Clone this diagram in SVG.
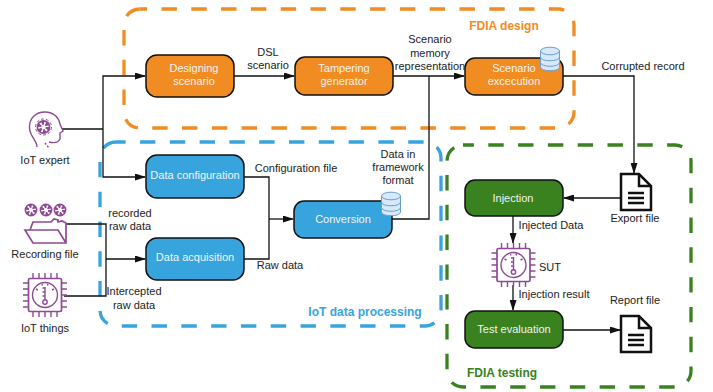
<svg xmlns="http://www.w3.org/2000/svg" width="713" height="392" viewBox="0 0 713 392">
<style>
text{font-family:"Liberation Sans",Arial,sans-serif;font-size:11px;fill:#222;text-anchor:middle}
.n{stroke:#111;stroke-width:1.5}
.o{fill:#f08c21}.b{fill:#38a4dd}.g{fill:#3a8120}
.n ~ text{fill:#f3f3f3}
.c{fill:none;stroke:#111;stroke-width:1.3}
.d{fill:none;stroke-width:3.3;stroke-dasharray:15.4 14.4}
.t{font-size:12px;font-weight:bold}
.p{fill:none;stroke:#8e4a94;stroke-width:1.4}
.db{fill:#d6e8fa;stroke:#6c9ec9;stroke-width:1}
.f{fill:#fff;stroke:#111;stroke-width:2.500}
.l{stroke:#111;stroke-width:2.500}
</style>
<defs>
<marker id="a" markerWidth="11" markerHeight="7" refX="10" refY="3.500" orient="auto" markerUnits="userSpaceOnUse"><path d="M0 0L11 3.500L0 7Z" fill="#111"/></marker>
<g id="chip">
<rect x="-16.500" y="-16.500" width="33" height="33" rx="1.500" class="p" style="stroke-width:1.700"/>
<circle r="12.500" class="p"/>
<path class="p" d="M-12-22v5.500M-6-22v5.500M0-22v5.500M6-22v5.500M12-22v5.500M-12 16.500v5.500M-6 16.500v5.500M0 16.500v5.500M6 16.500v5.500M12 16.500v5.500M-22-12h5.500M-22-6h5.500M-22 0h5.500M-22 6h5.500M-22 12h5.500M16.500-12h5.500M16.500-6h5.500M16.500 0h5.500M16.500 6h5.500M16.500 12h5.500M0-8V5M0-7h-2.500M0-3h-2.500M0 1h-2.500M-9-6l2 1M9-6l-2 1M-3-11l.5 1.500M3-11l-.5 1.500"/>
<circle cy="7" r="2.200" class="p"/>
</g>
<g id="doc">
<path class="f" d="M-15-18H3L15-6V18H-15Z"/><path class="f" style="fill:none" d="M3-18V-6H15"/>
<path class="l" d="M-8 1H8M-8 6H8M-8 11H8"/>
</g>
<g id="cyl">
<path class="db" d="M-9.500-8V8C-9.500 13 9.500 13 9.500 8V-8Z"/><ellipse cy="-8" rx="9.500" ry="3.800" class="db"/>
<path class="db" style="fill:none" d="M-9.500-2C-9.500 3 9.500 3 9.500-2M-9.500 3.500C-9.500 8.500 9.500 8.500 9.500 3.500"/>
</g>
<g id="gear"><circle r="3.200" class="p" style="stroke-width:3;stroke-dasharray:2 1.300"/><circle r="4.700" class="p" style="stroke-width:1.300"/></g>
</defs>

<g id="group-design"><rect x="124" y="9" width="450" height="119" rx="16" class="d" stroke="#f08c21" stroke-dashoffset="8.300"/><text class="t" x="504" y="30" style="fill:#f08c21">FDIA design</text></g>
<g id="group-processing"><rect x="100" y="142" width="341" height="184" rx="16" class="d" stroke="#38a4dd" stroke-dashoffset="5.800"/><text class="t" x="365" y="316" style="fill:#38a4dd">IoT data processing</text></g>
<g id="group-testing"><rect x="447" y="145" width="244" height="242" rx="16" class="d" stroke="#3a8120" stroke-dashoffset="4.500"/><text class="t" x="502" y="377" style="fill:#3a8120">FDIA testing</text></g>

<g id="connectors">
<path class="c" d="M62 129H103"/>
<path class="c" marker-end="url(#a)" d="M103 129V76H145"/>
<path class="c" marker-end="url(#a)" d="M103 129V177H145"/>
<path class="c" marker-end="url(#a)" d="M234 76H294"/>
<path class="c" marker-end="url(#a)" d="M393 76H464"/>
<path class="c" d="M429 76V219H392"/>
<path class="c" marker-end="url(#a)" d="M563 76H634V173"/>
<path class="c" marker-end="url(#a)" d="M621 198H564"/>
<path class="c" marker-end="url(#a)" d="M513 216V243"/>
<path class="c" marker-end="url(#a)" d="M513 285V310"/>
<path class="c" marker-end="url(#a)" d="M563 330H620"/>
<path class="c" d="M244 177H269V259H244"/>
<path class="c" marker-end="url(#a)" d="M269 219H293"/>
<path class="c" d="M66 224H106V296H64"/>
<path class="c" marker-end="url(#a)" d="M106 259H145"/>
</g>

<g id="designing"><rect x="146" y="55" width="88" height="42" rx="11" class="n o"/><text x="194" y="72">Designing</text><text x="194" y="85">scenario</text></g>
<g id="tampering"><rect x="295" y="57" width="98" height="38" rx="10" class="n o"/><text x="344" y="72">Tampering</text><text x="344" y="85">generator</text></g>
<g id="execution"><rect x="465" y="58" width="98" height="37" rx="10" class="n o"/><text x="514" y="72">Scenario</text><text x="514" y="85">excecution</text><use href="#cyl" x="550" y="59"/></g>
<g id="config"><rect x="146" y="155" width="98" height="43" rx="11" class="n b"/><text x="195" y="179">Data configuration</text></g>
<g id="acquisition"><rect x="146" y="238" width="98" height="42" rx="11" class="n b"/><text x="195" y="261">Data acquisition</text></g>
<g id="conversion"><rect x="294" y="201" width="98" height="37" rx="10" class="n b"/><text x="343" y="223">Conversion</text><use href="#cyl" x="391" y="204"/></g>
<g id="injection"><rect x="465" y="180" width="98" height="36" rx="10" class="n g"/><text x="513" y="202">Injection</text></g>
<g id="evaluation"><rect x="465" y="311" width="98" height="37" rx="10" class="n g"/><text x="514" y="333">Test evaluation</text></g>

<g id="iot-expert">
<path class="p" d="M37 147C37 140 30 137 29.500 128C29 118 36 112 45 112C54 112 59 118 60 124L63 131L60 133L60 139C58 143 53 143 49 142"/>
<path class="p" d="M45 143L49 148" style="stroke-dasharray:2 1.500"/>
<use href="#gear" transform="translate(43.500 127) scale(1.300)"/>
<circle cx="43.500" cy="127" r="8" class="p" style="stroke-width:1;stroke-dasharray:3 2"/>
<text x="45" y="164">IoT expert</text>
</g>
<g id="recording-file">
<use href="#gear" transform="translate(31 210) scale(1.200)"/><use href="#gear" transform="translate(46 210) scale(1.200)"/><use href="#gear" transform="translate(60 210) scale(1.200)"/>
<path class="p" style="stroke-width:1.700" d="M30 230L33 222H51L54 219L58 220V222L62 221L66 223V243H33L25 230H58L66 243"/>
<text x="45" y="258">Recording file</text>
</g>
<g id="iot-things"><use href="#chip" x="45" y="295"/><text x="45" y="332">IoT things</text></g>
<g id="sut"><use href="#chip" x="513.500" y="265"/><text x="550" y="271">SUT</text></g>
<g id="export-file"><use href="#doc" x="636" y="192"/><text x="635" y="222">Export file</text></g>
<g id="report-file"><use href="#doc" x="636" y="334"/><text x="635" y="304">Report file</text></g>

<g id="labels">
<text x="268" y="56">DSL</text><text x="268" y="69">scenario</text>
<text x="430" y="43">Scenario</text><text x="430" y="57">memory</text><text x="430" y="70">representation</text>
<text x="643" y="70">Corrupted record</text>
<text x="296" y="172">Configuration file</text>
<text x="398" y="158">Data in</text><text x="398" y="171">framework</text><text x="398" y="184">format</text>
<text x="280" y="269">Raw data</text>
<text x="130" y="217">recorded</text><text x="130" y="230">raw data</text>
<text x="134" y="295">Intercepted</text><text x="134" y="309">raw data</text>
<text x="551" y="229">Injected Data</text>
<text x="554" y="298">Injection result</text>
</g>
</svg>
